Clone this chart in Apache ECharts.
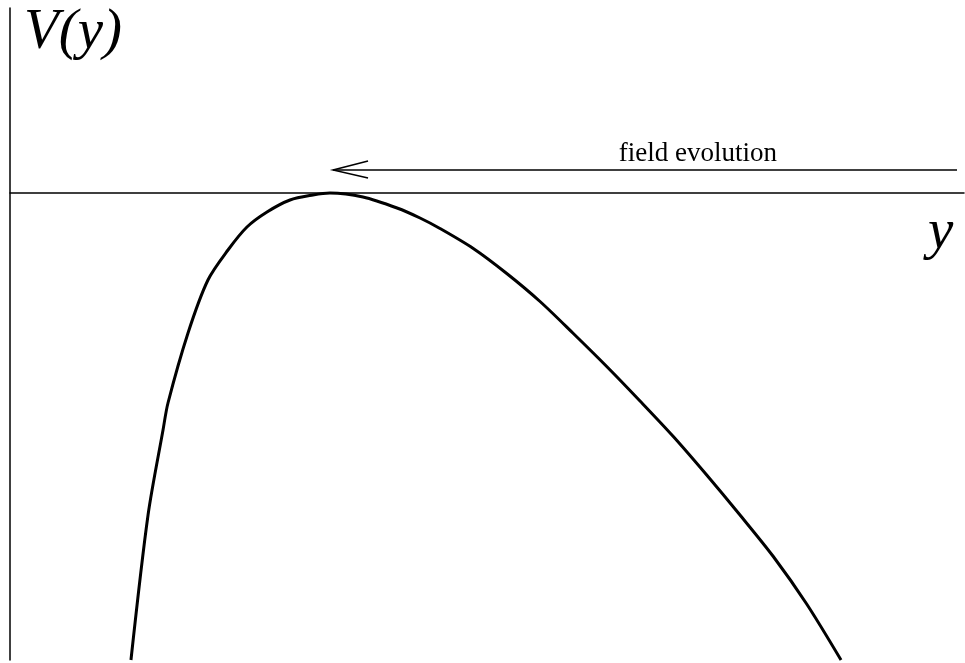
<!DOCTYPE html>
<html>
<head>
<meta charset="utf-8">
<script src="https://cdn.jsdelivr.net/npm/echarts@6/dist/echarts.min.js"></script>
<style>
  html, body { margin: 0; padding: 0; background: #fff; }
  #chart { width: 965px; height: 663px; }
</style>
</head>
<body>
<div id="chart"></div>
<script>
// curve V(y)
var curveX = [12.68, 14.47, 16.04, 16.56, 18.66, 20.75, 22.85, 24.84, 26.94, 29.35, 31.76, 33.54,
  37.0, 40.57, 42.98, 45.07, 48.56, 52.07, 55.56, 59.05, 62.55, 66.04, 69.53, 73.03, 76.52, 80.01, 83.51, 87.11];
var curveV = [-9.34, -6.44, -4.74, -4.20, -2.80, -1.74, -1.14, -0.68, -0.38, -0.14, -0.04, 0,
  -0.08, -0.30, -0.50, -0.71, -1.11, -1.61, -2.17, -2.81, -3.47, -4.16, -4.87, -5.64, -6.44, -7.27, -8.22, -9.34];

// arrow "field evolution"
var arrowFrom = [99.27, 0.46];
var arrowTo = [33.86, 0.46];
var arrowLabel = 'field evolution';
var arrowLabelPos = [72.1, 0.78];

var curveData = curveX.map(function (x, i) { return [x, curveV[i]]; });

var chart = echarts.init(document.getElementById('chart'));
chart.setOption({
  backgroundColor: '#fff',
  animation: false,
  grid: { left: 10, right: 1, top: 8, bottom: 3 },
  xAxis: {
    type: 'value', min: 0, max: 100,
    axisLine: { onZero: true, lineStyle: { color: '#000', width: 1.5 } },
    axisTick: { show: false },
    axisLabel: { show: false },
    splitLine: { show: false }
  },
  yAxis: {
    type: 'value', min: -9.34, max: 3.7,
    axisLine: { show: true, onZero: true, lineStyle: { color: '#000', width: 1.5 } },
    axisTick: { show: false },
    axisLabel: { show: false },
    splitLine: { show: false }
  },
  graphic: [
    {
      type: 'text', left: 24, top: 5,
      style: { text: 'V(y)', font: 'italic 57px "Liberation Serif"', fill: '#000' }
    },
    {
      type: 'text', left: 928, top: 205,
      style: { text: 'y', font: 'italic 57px "Liberation Serif"', fill: '#000' }
    }
  ],
  series: [
    {
      type: 'line',
      data: curveData,
      smooth: 0.3,
      symbol: 'none',
      lineStyle: { color: '#000', width: 3 }
    },
    {
      type: 'custom',
      data: [[arrowFrom[0], arrowFrom[1], arrowTo[0], arrowTo[1]]],
      renderItem: function (params, api) {
        var a = api.coord([api.value(0), api.value(1)]);
        var b = api.coord([api.value(2), api.value(3)]);
        var t = api.coord(arrowLabelPos);
        var stroke = { stroke: '#000', lineWidth: 1.5, fill: null };
        return {
          type: 'group',
          children: [
            { type: 'line', shape: { x1: a[0], y1: a[1], x2: b[0], y2: b[1] }, style: stroke },
            { type: 'polyline', shape: { points: [[b[0] + 35, b[1] - 9], [b[0], b[1]], [b[0] + 35, b[1] + 8]] }, style: stroke },
            { type: 'text', x: t[0], y: t[1],
              style: { text: arrowLabel, font: '27px "Liberation Serif"', fill: '#000', align: 'center', verticalAlign: 'middle' } }
          ]
        };
      }
    }
  ]
});
</script>
</body>
</html>
